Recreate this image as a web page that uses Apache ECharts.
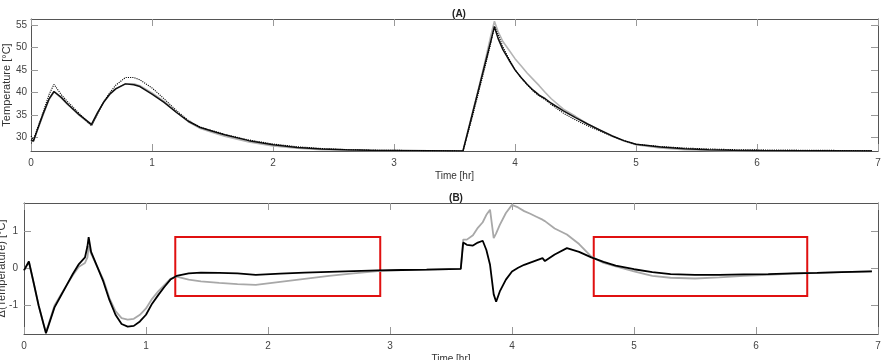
<!DOCTYPE html>
<html>
<head>
<meta charset="utf-8">
<script src="https://cdn.jsdelivr.net/npm/echarts@6/dist/echarts.min.js"></script>
<style>
  html, body { margin: 0; padding: 0; background: #fff; }
  #main { width: 881px; height: 360px; }
</style>
</head>
<body>
<div id="main"></div>
<script>
// panel (A): measured temperatures
var timeA = [0, 0.02, 0.05, 0.1, 0.15, 0.19, 0.25, 0.3, 0.4, 0.5, 0.51, 0.55, 0.6, 0.65, 0.7, 0.78, 0.85, 0.9, 1.0, 1.1, 1.2, 1.3, 1.4, 1.5, 1.6, 1.8, 2.0, 2.2, 2.4, 2.6, 2.8, 3.0, 3.3, 3.57, 3.65, 3.7, 3.75, 3.8, 3.83, 3.86, 3.9, 3.95, 4.0, 4.05, 4.1, 4.15, 4.2, 4.25, 4.3, 4.4, 4.5, 4.6, 4.7, 4.8, 4.9, 5.0, 5.2, 5.4, 5.6, 5.8, 6.0, 6.5, 6.95];
var blackA = [29.5, 29.2, 31.5, 35.2, 38.6, 40.2, 38.9, 37.5, 35.0, 32.9, 32.7, 35.5, 37.8, 39.6, 40.8, 41.9, 41.7, 41.3, 39.6, 37.8, 35.6, 33.6, 32.2, 31.4, 30.6, 29.3, 28.4, 27.8, 27.45, 27.25, 27.15, 27.1, 27.05, 27.0, 35.5, 40.8, 46.1, 51.4, 54.6, 52.0, 49.5, 47.2, 45.0, 43.3, 41.8, 40.5, 39.4, 38.6, 37.6, 35.9, 34.4, 33.0, 31.7, 30.4, 29.3, 28.5, 27.9, 27.5, 27.3, 27.15, 27.1, 27.05, 27.0];
var grayA = [29.4, 29.1, 31.4, 35.0, 38.5, 40.1, 38.8, 37.4, 34.9, 32.7, 32.6, 35.4, 37.8, 39.5, 40.8, 41.9, 41.9, 41.5, 39.9, 38.0, 35.7, 33.5, 32.0, 31.1, 30.3, 29.0, 28.1, 27.6, 27.3, 27.15, 27.1, 27.05, 27.0, 27.0, 35.6, 41.0, 46.6, 52.6, 55.8, 53.5, 51.3, 49.4, 47.5, 45.9, 44.3, 42.9, 41.5, 40.0, 38.6, 36.3, 34.7, 33.0, 31.6, 30.3, 29.2, 28.4, 27.7, 27.3, 27.1, 27.0, 27.0, 27.0, 27.0];
var dottedA = [30.3, 29.4, 31.8, 35.6, 39.6, 41.8, 39.5, 38.0, 35.3, 32.6, 32.5, 35.2, 37.9, 39.9, 41.6, 43.3, 43.3, 42.8, 41.0, 38.6, 36.0, 33.8, 32.3, 31.5, 30.7, 29.45, 28.55, 27.95, 27.55, 27.32, 27.2, 27.14, 27.08, 27.0, 34.8, 40.1, 45.4, 50.9, 54.7, 52.9, 50.1, 47.5, 45.05, 43.3, 41.7, 40.3, 39.2, 38.4, 37.3, 35.4, 33.9, 32.6, 31.45, 30.3, 29.3, 28.5, 28.0, 27.65, 27.45, 27.3, 27.25, 27.15, 27.08];

// panel (B): temperature differences
var timeB = [0, 0.01, 0.04, 0.08, 0.12, 0.16, 0.18, 0.2, 0.25, 0.3, 0.35, 0.4, 0.45, 0.5, 0.52, 0.53, 0.55, 0.6, 0.65, 0.7, 0.75, 0.8, 0.85, 0.9, 0.95, 1.0, 1.05, 1.1, 1.15, 1.2, 1.25, 1.35, 1.45, 1.6, 1.75, 1.9, 2.1, 2.3, 2.5, 2.7, 2.9, 3.1, 3.3, 3.58, 3.6, 3.63, 3.68, 3.72, 3.76, 3.79, 3.82, 3.85, 3.87, 3.9, 3.95, 4.0, 4.05, 4.1, 4.15, 4.2, 4.25, 4.27, 4.35, 4.45, 4.55, 4.65, 4.75, 4.85, 5.0, 5.15, 5.3, 5.5, 5.7, 5.9, 6.1, 6.3, 6.5, 6.7, 6.95];
var blackB = [-0.05, -0.1, 0.19, -0.4, -1.0, -1.5, -1.75, -1.55, -1.05, -0.75, -0.45, -0.15, 0.12, 0.3, 0.6, 0.85, 0.45, 0.05, -0.35, -0.85, -1.25, -1.5, -1.57, -1.55, -1.43, -1.25, -0.95, -0.72, -0.5, -0.3, -0.2, -0.13, -0.11, -0.12, -0.13, -0.17, -0.14, -0.11, -0.09, -0.07, -0.05, -0.04, -0.03, -0.01, 0.7, 0.64, 0.62, 0.7, 0.75, 0.5, 0.1, -0.7, -0.9, -0.62, -0.3, -0.08, 0.02, 0.1, 0.16, 0.22, 0.28, 0.2, 0.38, 0.55, 0.45, 0.3, 0.18, 0.08, -0.02, -0.1, -0.15, -0.17, -0.17, -0.16, -0.15, -0.13, -0.12, -0.1, -0.08];
var grayB = [-0.05, -0.1, 0.19, -0.4, -1.0, -1.5, -1.72, -1.52, -1.0, -0.72, -0.45, -0.18, 0.05, 0.15, 0.3, 0.6, 0.4, 0.05, -0.3, -0.8, -1.15, -1.34, -1.38, -1.36, -1.25, -1.08, -0.82, -0.62, -0.45, -0.28, -0.22, -0.3, -0.35, -0.39, -0.42, -0.44, -0.36, -0.28, -0.2, -0.13, -0.07, -0.04, -0.03, -0.01, 0.78, 0.78, 0.9, 1.1, 1.25, 1.45, 1.59, 0.82, 0.95, 1.18, 1.5, 1.72, 1.65, 1.55, 1.48, 1.4, 1.32, 1.28, 1.08, 0.92, 0.66, 0.32, 0.15, 0.06, -0.08, -0.2, -0.25, -0.27, -0.24, -0.2, -0.17, -0.14, -0.12, -0.1, -0.08];

// highlighted windows in (B): [t0, t1, low, high]
var boxesB = [[1.24, 2.92, -0.74, 0.85], [4.67, 6.42, -0.74, 0.85]];

var xTicks = [0, 1, 2, 3, 4, 5, 6, 7];
var yTicksA = [30, 35, 40, 45, 50, 55];
var yTicksB = [-1, 0, 1];

function pairs(t, v) {
  return t.map(function (x, i) { return [x, v[i]]; });
}

var font = "Liberation Sans, Arial, sans-serif";
var frame = { show: true, onZero: false, lineStyle: { color: "#555", width: 1 } };
var tick = { inside: true, length: 7, lineStyle: { color: "#999", width: 1 } };
var label = { color: "#444", fontSize: 10, fontFamily: font };

function xAxis(grid, pos, named) {
  return {
    type: "value", gridIndex: grid, position: pos, min: 0, max: 7,
    axisLine: frame,
    axisTick: Object.assign({ customValues: xTicks }, tick),
    axisLabel: Object.assign({ show: named, customValues: xTicks, margin: 7 }, label),
    splitLine: { show: false },
    name: named ? "Time [hr]" : "", nameLocation: "middle", nameGap: 20,
    nameMoveOverlap: false,
    nameTextStyle: { color: "#333", fontSize: 10, fontFamily: font }
  };
}
function yAxis(grid, pos, named, mn, mx, ticks, name, gap, margin) {
  return {
    type: "value", gridIndex: grid, position: pos, min: mn, max: mx,
    axisLine: frame,
    axisTick: Object.assign({ customValues: ticks }, tick),
    axisLabel: Object.assign({ show: named, customValues: ticks, margin: margin }, label),
    splitLine: { show: false },
    name: named ? name : "", nameLocation: "middle", nameGap: gap,
    nameMoveOverlap: false,
    nameTextStyle: { color: "#333", fontSize: 11, fontFamily: font }
  };
}
function line(name, xi, yi, data, color, width, type) {
  return {
    name: name, type: "line", xAxisIndex: xi, yAxisIndex: yi, data: data,
    showSymbol: false, symbol: "none", animation: false, silent: true,
    lineStyle: { color: color, width: width, type: type || "solid" }
  };
}

var myChart = echarts.init(document.getElementById("main"));
myChart.setOption({
  backgroundColor: "#fff",
  animation: false,
  title: [
    { text: "(A)", left: 454, top: 4, textAlign: "center",
      textStyle: { fontSize: 10, fontWeight: "bold", color: "#222", fontFamily: font } },
    { text: "(B)", left: 451, top: 188, textAlign: "center",
      textStyle: { fontSize: 10, fontWeight: "bold", color: "#222", fontFamily: font } }
  ],
  grid: [
    { left: 31, right: 3, top: 19, height: 132, outerBoundsMode: "none", containLabel: false },
    { left: 24, right: 3, top: 203, height: 131, outerBoundsMode: "none", containLabel: false }
  ],
  xAxis: [
    xAxis(0, "bottom", true), xAxis(0, "top", false),
    xAxis(1, "bottom", true), xAxis(1, "top", false)
  ],
  yAxis: [
    yAxis(0, "left", true, 27, 56.3, yTicksA, "Temperature [°C]", 19, 4),
    yAxis(0, "right", false, 27, 56.3, yTicksA, "", 0, 4),
    yAxis(1, "left", true, -1.77, 1.77, yTicksB, "Δ(Temperature) [°C]", 17, 6),
    yAxis(1, "right", false, -1.77, 1.77, yTicksB, "", 0, 6)
  ],
  series: [
    line("gray A", 0, 0, pairs(timeA, grayA), "#b4b4b4", 1.6),
    line("black A", 0, 0, pairs(timeA, blackA), "#111", 1.5),
    line("dotted A", 0, 0, pairs(timeA, dottedA), "#000", 1.1, "dotted"),
    line("gray B", 2, 2, pairs(timeB, grayB), "#a8a8a8", 1.8),
    Object.assign(line("black B", 2, 2, pairs(timeB, blackB), "#000", 1.8), {
      markArea: {
        silent: true,
        itemStyle: { color: "rgba(0,0,0,0)", borderColor: "#e01010", borderWidth: 2 },
        data: boxesB.map(function (b) {
          return [{ coord: [b[0], b[3]] }, { coord: [b[1], b[2]] }];
        })
      }
    })
  ]
});
window.addEventListener("resize", function () { myChart.resize(); });
</script>
</body>
</html>
